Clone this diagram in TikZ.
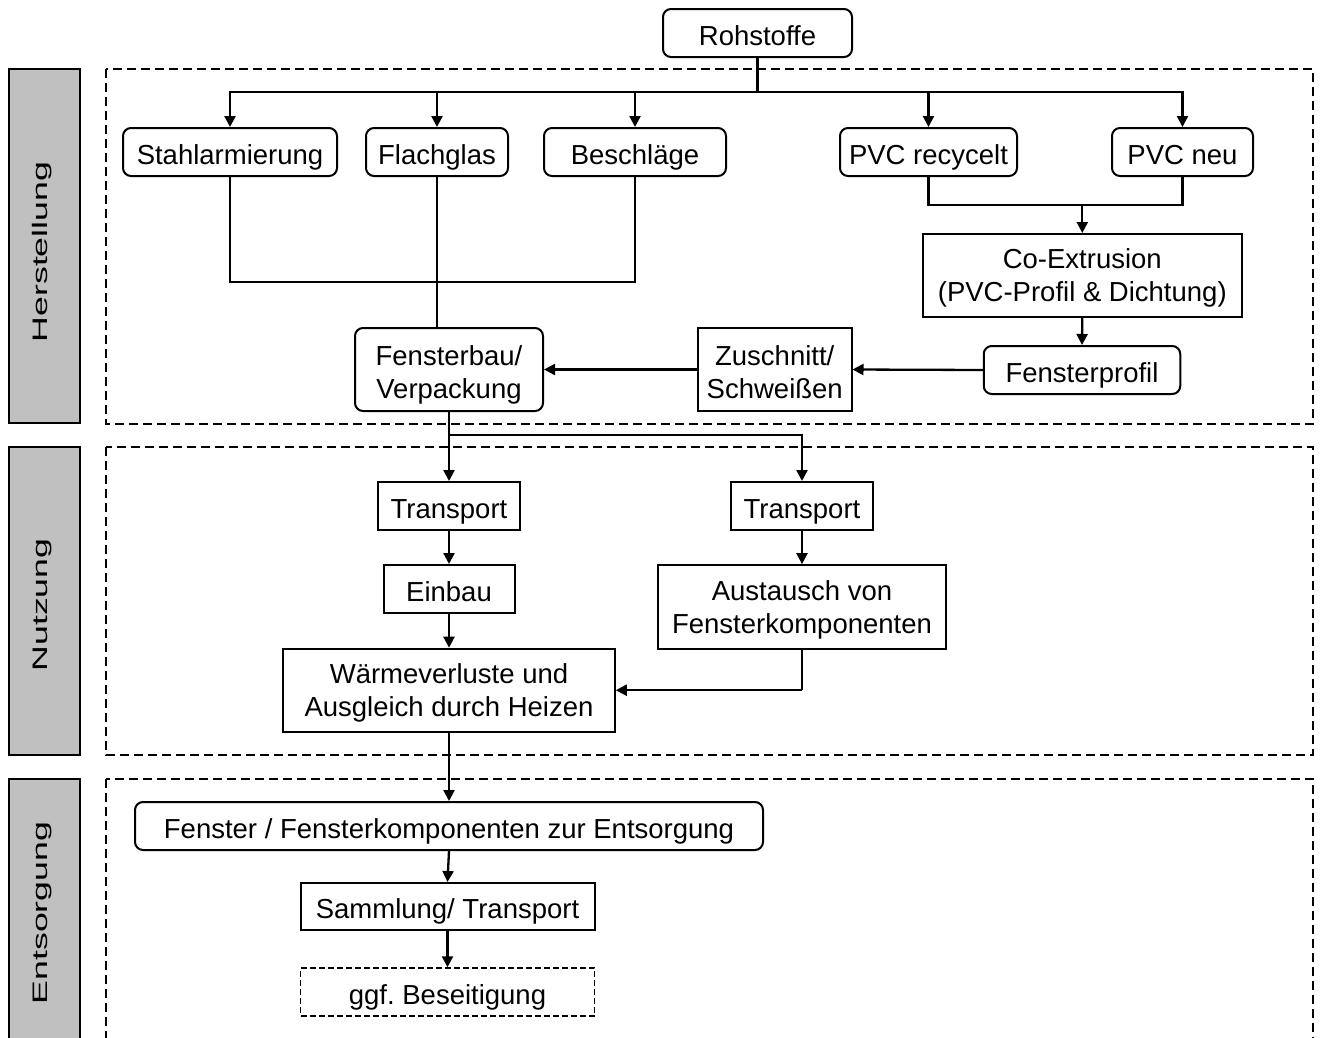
\documentclass[tikz,border=0pt]{standalone}
\usepackage{fontspec}
\setmainfont{Liberation Sans}
\newfontfamily\lblfont[FakeStretch=1.7]{Liberation Sans}
\usetikzlibrary{arrows.meta}
\definecolor{lblgray}{RGB}{192,192,192}
\newcommand{\twoln}[2]{\begin{tabular}[b]{@{}c@{}}#1\\#2\end{tabular}}
\tikzset{
 box/.style={draw, line width=2pt, inner sep=0pt, font=\fontsize{27.5}{33}\selectfont\frenchspacing, minimum height=48pt, text height=24pt, text depth=0pt},
 rbox/.style={box, rounded corners=8pt},
 twobox/.style={text height=#1, text depth=0pt},
 conn/.style={line width=2.3pt},
 arr/.style={conn, -{Triangle[length=11pt,width=11pt]}},
 group/.style={draw, line width=1.7pt, dash pattern=on 9pt off 5pt},
 phase/.style={draw, line width=1.5pt, fill=lblgray},
 phasetext/.style={rotate=90, anchor=base, inner sep=0pt, font=\lblfont\fontsize{21}{24}\selectfont},
}
\begin{document}
\begin{tikzpicture}[x=1pt,y=-1pt]
\useasboundingbox (0,0) rectangle (1323,1037);
\clip (0,0) rectangle (1323,1037);
% phase labels
\draw[phase] (9,69) rectangle (80,423);
\draw[phase] (9,447) rectangle (80,755);
\draw[phase] (9,779) rectangle (80,1100);
\node[phasetext] (lh) at (47.5,252) {Herstellung};
\node[phasetext] (ln) at (47.5,605) {Nutzung};
\node[phasetext] (le) at (47.5,913) {Entsorgung};
% group frames
\draw[group] (106,69) rectangle (1313,424);
\draw[group] (106,447) rectangle (1313,755);
\draw[group] (106,779) rectangle (1313,1100);
% nodes
\node[rbox, minimum width=189pt] (roh) at (757.5,33) {Rohstoffe};
\node[rbox, minimum width=214pt] (stahl) at (230,152) {Stahlarmierung};
\node[rbox, minimum width=142pt] (flach) at (437,152) {Flachglas};
\node[rbox, minimum width=182pt] (besch) at (635,152) {Beschläge};
\node[rbox, minimum width=177pt] (pvcr) at (928.5,152) {PVC recycelt};
\node[rbox, minimum width=141pt] (pvcn) at (1182.5,152) {PVC neu};
\node[box, twobox=52pt, minimum width=319pt, minimum height=83pt] (coex) at (1082.3,275.5) {\twoln{Co-Extrusion}{(PVC-Profil \& Dichtung)}};
\node[rbox, minimum width=196.5pt] (fprof) at (1082,370) {Fensterprofil};
\node[box, twobox=58pt, minimum width=153.5pt, minimum height=83pt] (zus) at (774.75,369.5) {\twoln{Zuschnitt/}{Schweißen}};
\node[rbox, twobox=58pt, minimum width=188pt, minimum height=83pt] (fbau) at (449,369.5) {\twoln{Fensterbau/}{Verpackung}};
\node[box, minimum width=142.4pt] (t1) at (449,506) {Transport};
\node[box, minimum width=142.6pt] (t2) at (802,506) {Transport};
\node[box, minimum width=131pt] (einbau) at (449,589) {Einbau};
\node[box, twobox=52pt, minimum width=288.5pt, minimum height=83.7pt] (aus) at (802,607) {\twoln{Austausch von}{Fensterkomponenten}};
\node[box, twobox=52pt, minimum width=331.6pt, minimum height=83pt] (waerme) at (449,690.2) {\twoln{Wärmeverluste und}{Ausgleich durch Heizen}};
\node[rbox, minimum width=628pt] (fent) at (449,826) {Fenster / Fensterkomponenten zur Entsorgung};
\node[box, minimum width=294pt, minimum height=47pt] (samm) at (447.5,906.5) {Sammlung/ Transport};
\node[box, minimum width=294pt, line width=1.5pt, dash pattern=on 6pt off 3pt] (ggf) at (447.5,992) {ggf. Beseitigung};
% connectors
\coordinate (bus) at (757.5,92);
\draw[conn] (roh.south) -- (bus);
\draw[arr] (bus) -| (stahl.north);
\draw[arr] (bus) -| (flach.north);
\draw[arr] (bus) -| (besch.north);
\draw[arr] (bus) -| (pvcr.north);
\draw[arr] (bus) -| (pvcn.north);
\coordinate (join1) at (230,282);
\draw[conn] (stahl.south) -- (join1) -| (besch.south);
\draw[conn] (flach.south) -- (flach.south |- fbau.north);
\coordinate (join2) at (1082.3,205);
\draw[conn] (pvcr.south) |- (join2) -| (pvcn.south);
\draw[arr] (join2) -- (coex.north);
\draw[arr] (coex.south) -- (fprof.north);
\draw[arr] (fprof.west) -- (zus.east);
\draw[arr] (zus.west) -- (fbau.east);
\coordinate (split) at (449,435);
\draw[arr] (fbau.south) -- (t1.north);
\draw[arr] (split) -| (t2.north);
\draw[arr] (t1.south) -- (einbau.north);
\draw[arr] (einbau.south) -- (waerme.north);
\draw[arr] (t2.south) -- (aus.north);
\coordinate (ret) at (802,690.2);
\draw[conn] (aus.south) -- (ret);
\draw[arr] (ret) -- (waerme.east);
\draw[arr] (waerme.south) -- (fent.north);
\draw[arr] (fent.south) -- (samm.north);
\draw[arr] (samm.south) -- (ggf.north);
\end{tikzpicture}
\end{document}
